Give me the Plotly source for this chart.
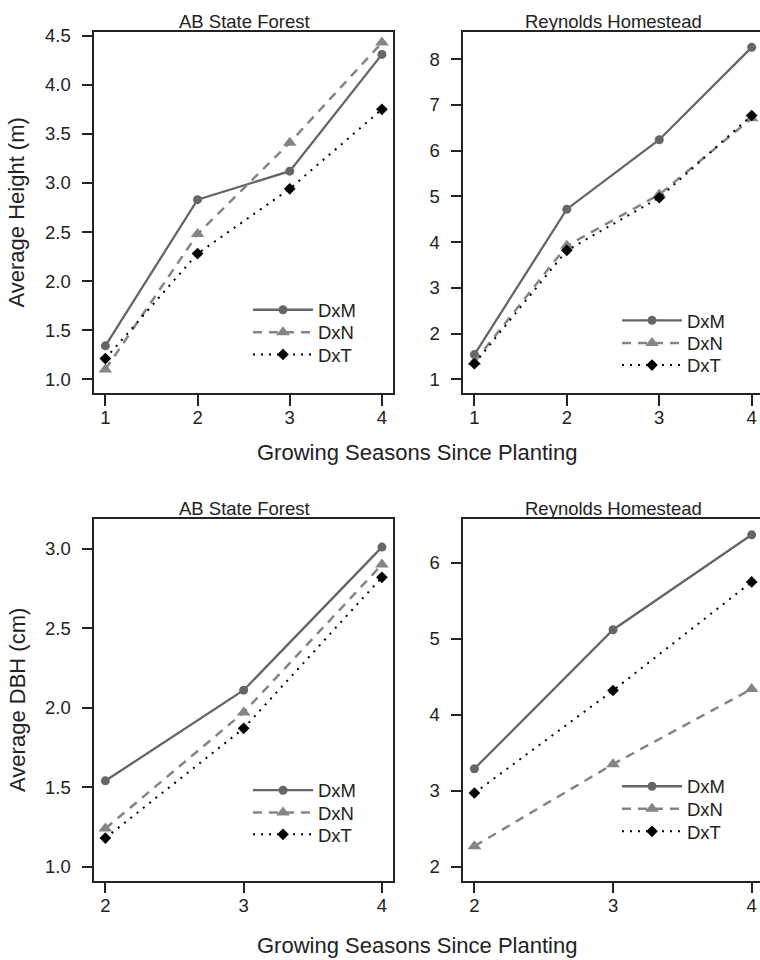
import plotly.graph_objects as go

# ---------------- data ----------------
series_names = ["DxM", "DxN", "DxT"]
seasons_height = [1, 2, 3, 4]
seasons_dbh = [2, 3, 4]

height_ab_dxm = [1.34, 2.83, 3.12, 4.31]
height_ab_dxn = [1.10, 2.48, 3.41, 4.43]
height_ab_dxt = [1.21, 2.28, 2.94, 3.75]

height_rh_dxm = [1.54, 4.72, 6.24, 8.26]
height_rh_dxn = [1.38, 3.92, 5.04, 6.71]
height_rh_dxt = [1.34, 3.82, 4.97, 6.77]

dbh_ab_dxm = [1.54, 2.11, 3.01]
dbh_ab_dxn = [1.24, 1.97, 2.90]
dbh_ab_dxt = [1.18, 1.87, 2.82]

dbh_rh_dxm = [3.29, 5.12, 6.37]
dbh_rh_dxn = [2.27, 3.35, 4.34]
dbh_rh_dxt = [2.97, 4.32, 5.75]

panel_titles = ["AB State Forest", "Reynolds Homestead", "AB State Forest", "Reynolds Homestead"]
x_title = "Growing Seasons Since Planting"
y_title_height = "Average Height (m)"
y_title_dbh = "Average DBH (cm)"

yticks_height_ab = [1.0, 1.5, 2.0, 2.5, 3.0, 3.5, 4.0, 4.5]
yticks_height_rh = [1, 2, 3, 4, 5, 6, 7, 8]
yticks_dbh_ab = [1.0, 1.5, 2.0, 2.5, 3.0]
yticks_dbh_rh = [2, 3, 4, 5, 6]

# ---------------- styles ----------------
W, H = 760, 960
FONT = "Liberation Sans, Arial, Helvetica, sans-serif"
TXT = "#222222"
styles = {
    "DxM": dict(line=dict(color="#666666", width=2.3, dash="solid"),
                marker=dict(symbol="circle", size=9, color="#666666")),
    "DxN": dict(line=dict(color="#858585", width=2.5, dash="9px,7px"),
                marker=dict(symbol="triangle-up", size=12, color="#858585")),
    "DxT": dict(line=dict(color="#000000", width=2.0, dash="2px,6px"),
                marker=dict(symbol="diamond", size=9, color="#000000")),
}

def px_x(p):
    return p / W

def px_y(p):
    return 1 - p / H

fig = go.Figure()

# legend row positions (pixel) per panel: (line start x, [row centres y])
legend_rows = [
    (253, [309.3, 332.0, 354.3]),
    (622, [320.0, 342.7, 365.0]),
    (253, [793.3, 815.7, 837.7]),
    (622, [789.3, 812.0, 834.7]),
]

panels = [
    (seasons_height, [height_ab_dxm, height_ab_dxn, height_ab_dxt], "x", "y"),
    (seasons_height, [height_rh_dxm, height_rh_dxn, height_rh_dxt], "x2", "y2"),
    (seasons_dbh, [dbh_ab_dxm, dbh_ab_dxn, dbh_ab_dxt], "x3", "y3"),
    (seasons_dbh, [dbh_rh_dxm, dbh_rh_dxn, dbh_rh_dxt], "x4", "y4"),
]

legend_layouts = {}
k = 0
for pi, (xs, ys_list, xa, ya) in enumerate(panels):
    lx, rows = legend_rows[pi]
    for si, (name, ys) in enumerate(zip(series_names, ys_list)):
        k += 1
        lg = "legend" if k == 1 else "legend%d" % k
        st = styles[name]
        fig.add_trace(go.Scatter(
            x=xs, y=ys, mode="lines+markers", name=name,
            line=st["line"], marker=st["marker"],
            xaxis=xa, yaxis=ya, legend=lg, showlegend=True,
        ))
        legend_layouts[lg] = dict(
            bgcolor="rgba(0,0,0,0)", borderwidth=0,
            font=dict(family=FONT, size=18.5, color=TXT),
            xanchor="left", yanchor="top", itemwidth=60,
            itemclick=False, itemdoubleclick=False,
            x=px_x(lx - 5), y=px_y(rows[si] - 23),
        )

left_dom = [px_x(94.3), px_x(393)]
right_dom = [px_x(463.3), 1.0]
top_dom = [px_y(389), px_y(25)]
bot_dom = [px_y(880), px_y(515.7)]

axis_common = dict(
    showline=True, linecolor="#222222", linewidth=1.6,
    ticks="outside", ticklen=11, tickwidth=1.5, tickcolor="#222222",
    showgrid=False, zeroline=False,
    tickfont=dict(family=FONT, size=18.5, color=TXT),
    fixedrange=True,
)

def xaxis(dom, rng, vals, anchor, mirror):
    d = dict(axis_common)
    d.update(domain=dom, range=rng, tickvals=vals, anchor=anchor, mirror=mirror,
             ticklabelstandoff=-4)
    return d

def yaxis(dom, rng, vals, anchor, fmt, mirror):
    d = dict(axis_common)
    d.update(domain=dom, range=rng, tickvals=vals, anchor=anchor, tickformat=fmt,
             mirror=mirror, ticklabelstandoff=7)
    return d

fig.update_layout(
    width=W, height=H,
    margin=dict(l=0, r=0, t=0, b=0),
    paper_bgcolor="white", plot_bgcolor="white",
    font=dict(family=FONT, size=18.5, color=TXT),
    xaxis=xaxis(left_dom, [0.88, 4.12], seasons_height, "y", True),
    yaxis=yaxis(top_dom, [0.858, 4.54], yticks_height_ab, "x", ".1f", True),
    xaxis2=xaxis(right_dom, [0.88, 4.09], seasons_height, "y2", True),
    yaxis2=yaxis(top_dom, [0.696, 8.60], yticks_height_rh, "x2", "d", False),
    xaxis3=xaxis(left_dom, [1.92, 4.08], seasons_dbh, "y3", True),
    yaxis3=yaxis(bot_dom, [0.9126, 3.187], yticks_dbh_ab, "x3", ".1f", True),
    xaxis4=xaxis(right_dom, [1.92, 4.06], seasons_dbh, "y4", True),
    yaxis4=yaxis(bot_dom, [1.817, 6.579], yticks_dbh_rh, "x4", "d", False),
)
fig.update_layout(**legend_layouts)

annotations = []
title_pos = [(244, 15), (613, 15), (244, 505), (613, 505)]
for t, (cx, cy) in zip(panel_titles, title_pos):
    annotations.append(dict(text=t, x=px_x(cx), y=px_y(cy), xref="paper", yref="paper",
                            xanchor="center", yanchor="middle", showarrow=False,
                            font=dict(family=FONT, size=18.5, color=TXT)))
for cy in (449, 945):
    annotations.append(dict(text=x_title, x=px_x(417), y=px_y(cy), xref="paper", yref="paper",
                            xanchor="center", yanchor="middle", showarrow=False,
                            font=dict(family=FONT, size=22, color=TXT)))
annotations.append(dict(text=y_title_height, x=px_x(16), y=px_y(207), xref="paper", yref="paper",
                        xanchor="center", yanchor="middle", showarrow=False, textangle=-90,
                        font=dict(family=FONT, size=22, color=TXT)))
annotations.append(dict(text=y_title_dbh, x=px_x(18), y=px_y(698), xref="paper", yref="paper",
                        xanchor="center", yanchor="middle", showarrow=False, textangle=-90,
                        font=dict(family=FONT, size=22, color=TXT)))
fig.update_layout(annotations=annotations)

fig.write_html("out.html", config={"displayModeBar": False},
               post_script="document.body.style.margin='0';document.body.style.overflow='hidden';")
